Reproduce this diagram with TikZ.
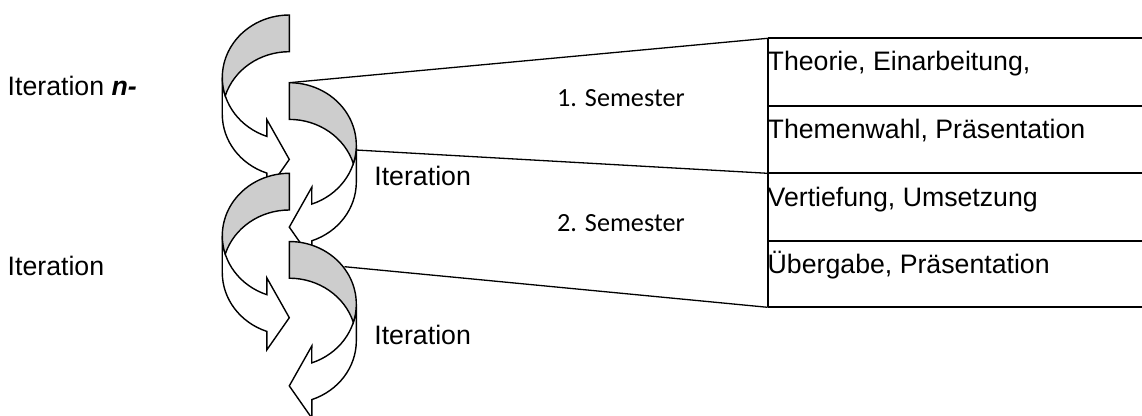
\documentclass[tikz,border=0pt]{standalone}
\usepackage{fontspec}
\setmainfont{Liberation Sans}
\newfontfamily\calfont{Carlito}
\definecolor{bandgray}{RGB}{205,205,205}
\tikzset{
  bandline/.style={line width=1.4bp, line join=miter, draw=black},
  conn/.style={line width=1.3bp, draw=black},
  tabline/.style={line width=1.8bp, draw=black},
  lbl/.style={font=\fontsize{26.8pt}{32pt}\selectfont, inner sep=0pt, anchor=base west},
  semlbl/.style={font=\calfont\fontsize{26.3pt}{32pt}\selectfont, inner sep=0pt, anchor=base west},
  pics/curvright/.style={code={
    \coordinate (-top) at (0,0);
    \filldraw[bandline, fill=white] (-67,62.5)
      arc[start angle=180, end angle=250.4, x radius=67bp, y radius=62.5bp]
      -- (-22.5,104.5) -- (0,144.4) -- (-22.5,176.6) -- (-22.5,158.1)
      arc[start angle=250.4, end angle=180, x radius=67bp, y radius=62.5bp] -- cycle;
    \filldraw[bandline, fill=bandgray] (0,0)
      arc[start angle=90, end angle=197.07, x radius=67bp, y radius=62.5bp]
      arc[start angle=162.93, end angle=90, x radius=67bp, y radius=62.5bp] -- cycle;
  }},
  pics/curvleft/.style={code={
    \coordinate (-top) at (0,0);
    \filldraw[bandline, fill=white] (67,62.5)
      arc[start angle=0, end angle=-70.4, x radius=67bp, y radius=62.5bp]
      -- (22.5,104.5) -- (0,144.4) -- (22.5,176.6) -- (22.5,158.1)
      arc[start angle=-70.4, end angle=0, x radius=67bp, y radius=62.5bp] -- cycle;
    \filldraw[bandline, fill=bandgray] (0,0)
      arc[start angle=90, end angle=-17.07, x radius=67bp, y radius=62.5bp]
      arc[start angle=17.07, end angle=90, x radius=67bp, y radius=62.5bp] -- cycle;
  }}
}
\begin{document}
\begin{tikzpicture}[x=1bp,y=-1bp]
\useasboundingbox (0,0) rectangle (1142,415);
\clip (0,0) rectangle (1142,415);
\fill[white] (0,0) rectangle (1142,415);

% table
\coordinate (t0) at (767.7,38.3);
\coordinate (t1) at (767.7,106);
\coordinate (t2) at (767.7,173.3);
\coordinate (t3) at (767.7,240.7);
\coordinate (t4) at (767.7,307.3);
\coordinate (e0) at (1150,38.3);
\coordinate (e1) at (1150,106);
\coordinate (e2) at (1150,173.3);
\coordinate (e3) at (1150,240.7);
\coordinate (e4) at (1150,307.3);
\draw[tabline] (t0) -- (e0) (t1) -- (e1) (t2) -- (e2) (t3) -- (e3) (t4) -- (e4);
\draw[tabline] (t0) -- (t4);

\node[lbl] (row1) at (767.5,70) {Theorie, Einarbeitung,};
\node[lbl] (row2) at (767.5,138.3) {Themenwahl, Präsentation};
\node[lbl] (row3) at (767.5,206) {Vertiefung, Umsetzung};
\node[lbl] (row4) at (767.5,273.3) {Übergabe, Präsentation};

% connectors
\coordinate (b1side) at (356,150);
\coordinate (b2side) at (344.5,266.7);
\draw[conn] (289.3,82.7) coordinate (b1top) -- (t0);
\draw[conn] (b1side) -- (t2);
\draw[conn] (b2side) -- (t4);

% arrows
\pic (a1) at (289.3,15) {curvright};
\pic (b1) at (289.3,82.7) {curvleft};
\pic (a2) at (289.3,173.3) {curvright};
\pic (b2) at (289.3,241.5) {curvleft};

% labels
\node[lbl] (itn) at (7.5,95) {Iteration \textbf{\textit{n-}}};
\node[lbl] (it2) at (7.5,275) {Iteration};
\node[lbl] (itb1) at (374.2,185) {Iteration};
\node[lbl] (itb2) at (374.2,344) {Iteration};
\node[semlbl] (sem1) at (557,106.7) {1. Semester};
\node[semlbl] (sem2) at (557,231.7) {2. Semester};
\end{tikzpicture}
\end{document}
